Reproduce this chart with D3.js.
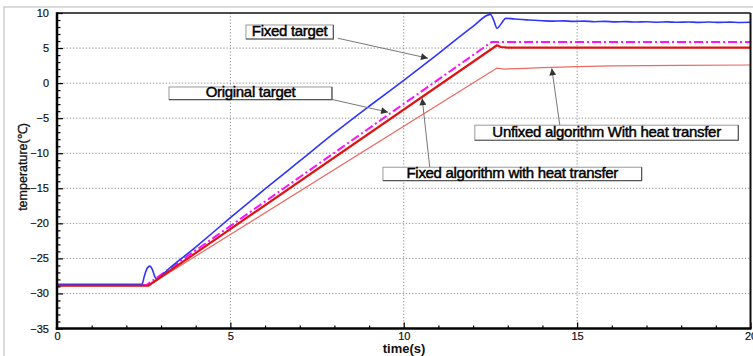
<!DOCTYPE html>
<html><head><meta charset="utf-8">
<script src="https://cdn.jsdelivr.net/npm/d3@7"></script>
<style>
html,body{margin:0;padding:0;background:#fff;}
svg{display:block;font-family:"Liberation Sans",Arial,sans-serif;}
</style></head>
<body><svg id="c" width="753" height="356"></svg>
<script>
// ---- data ----
const xTicks = [0, 5, 10, 15, 20];
const yTicks = [10, 5, 0, -5, -10, -15, -20, -25, -30, -35];
const xMinor = [1,2,3,4,6,7,8,9,11,12,13,14,16,17,18,19];
const yMinor = [9,8,7,6,4,3,2,1,-1,-2,-3,-4,-6,-7,-8,-9,-11,-12,-13,-14,-16,-17,-18,-19,-21,-22,-23,-24,-26,-27,-28,-29,-31,-32,-33,-34];

// Fixed target (blue)
const blueT = [0, 2.45, 2.52, 2.6, 2.68, 2.75, 2.82, 2.88, 2.95, 3.05, 4, 5, 6, 7, 8, 9, 10, 11, 12, 12.5, 12.6, 12.69, 12.8, 12.94, 13.1, 13.3, 13.6, 14, 14.3, 14.6, 14.9, 15.2, 15.5, 15.8, 16.1, 16.4, 16.7, 17, 17.3, 17.6, 17.9, 18.2, 18.5, 18.8, 19.1, 19.4, 19.7, 20];
const blueV = [-28.7, -28.7, -27.5, -26.4, -26.1, -26.6, -27.6, -28.0, -27.8, -27.3, -23.4, -19.2, -15.1, -11.1, -7.1, -3.3, 0.4, 4.2, 8.1, 9.8, 8.9, 7.8, 8.4, 9.24, 9.2, 9.1, 9.0, 8.9, 8.84, 8.88, 8.8, 8.84, 8.76, 8.8, 8.73, 8.77, 8.71, 8.75, 8.69, 8.73, 8.68, 8.72, 8.67, 8.71, 8.66, 8.7, 8.65, 8.67];
// Original target (magenta dash-dot)
const magT = [0, 2.58, 12.53, 20];
const magV = [-28.8, -28.8, 5.85, 5.85];
// Fixed algorithm with heat transfer (red)
const redT = [0, 2.63, 12.69, 12.8, 13.0, 20];
const redV = [-28.9, -28.9, 5.4, 5.15, 5.05, 5.05];
// Unfixed algorithm With heat transfer (light red)
const lredT = [0, 2.63, 12.69, 12.9, 13.5, 14, 15, 16, 17, 18, 20];
const lredV = [-28.9, -28.9, 2.15, 2.0, 2.1, 2.2, 2.35, 2.45, 2.5, 2.54, 2.58];

const labels = ["Fixed target", "Original target", "Unfixed algorithm With heat transfer", "Fixed algorithm with heat transfer"];

// ---- layout ----
const svg = d3.select("#c");
const L = 57, R = 750.5, T = 13, B = 328.5;
const x = d3.scaleLinear().domain([0, 20]).range([L, R]);
const y = d3.scaleLinear().domain([-35, 10]).range([B, T]);

// outer light frame
svg.append("path").attr("d", `M4,356 L4,7 L753,7`).attr("fill","none").attr("stroke","#cfcfcf").attr("stroke-width",1.5);

// grid
const g = svg.append("g");
g.selectAll(".gx").data(xTicks.filter(d => d > 0 && d < 20)).join("line")
  .attr("x1", d => x(d)).attr("x2", d => x(d)).attr("y1", T).attr("y2", B)
  .attr("stroke", "#888").attr("stroke-width", 1).attr("stroke-dasharray", "1.2,2");
g.selectAll(".gy").data(yTicks.filter(d => d < 10 && d > -35)).join("line")
  .attr("x1", L).attr("x2", R).attr("y1", d => y(d)).attr("y2", d => y(d))
  .attr("stroke", "#888").attr("stroke-width", 1).attr("stroke-dasharray", "1.2,2");

// clip
svg.append("clipPath").attr("id","pc").append("rect").attr("x",L).attr("y",T).attr("width",R-L).attr("height",B-T);
const lines = svg.append("g").attr("clip-path","url(#pc)");
function draw(ts, vs, color, w, dash, curve) {
  const pts = ts.map((t, i) => [t, vs[i]]);
  const ln = d3.line().x(d => x(d[0])).y(d => y(d[1])).curve(curve || d3.curveLinear);
  lines.append("path").attr("d", ln(pts))
    .attr("fill","none").attr("stroke",color).attr("stroke-width",w)
    .attr("stroke-dasharray", dash || null).attr("stroke-linejoin","round");
}
draw(magT, magV, "#ff10ff", 2, "9,3,2,3");
draw(blueT, blueV, "#2f35ff", 1.6, null, d3.curveMonotoneX);
draw(lredT, lredV, "#ec6a64", 1.2, null, d3.curveLinear);
draw(redT, redV, "#dd1515", 2.2, null, d3.curveLinear);

// axes
const xAxis = d3.axisBottom(x).tickValues(xTicks).tickSizeInner(-6).tickSizeOuter(0).tickPadding(3.5);
svg.append("g").attr("transform", `translate(0,${B})`).call(xAxis);
const xMin = d3.axisBottom(x).tickValues(xMinor).tickSizeInner(-3).tickSizeOuter(0).tickFormat("");
svg.append("g").attr("transform", `translate(0,${B})`).call(xMin);
const yAxis = d3.axisLeft(y).tickValues(yTicks).tickSizeInner(-6).tickSizeOuter(0).tickPadding(8);
svg.append("g").attr("transform", `translate(${L},0)`).call(yAxis);
const yMin = d3.axisLeft(y).tickValues(yMinor).tickSizeInner(-3.5).tickSizeOuter(0).tickFormat("");
svg.append("g").attr("transform", `translate(${L},0)`).call(yMin);
svg.selectAll(".domain").remove();
svg.selectAll(".tick line").attr("stroke","#000").attr("stroke-width",1.2);
svg.selectAll(".tick text").attr("font-size", 11).attr("font-family","Liberation Sans, Arial, sans-serif")
  .attr("fill","#111").attr("stroke","#111").attr("stroke-width",0.2);

// frame
svg.append("line").attr("x1",L).attr("x2",R).attr("y1",T).attr("y2",T).attr("stroke","#111").attr("stroke-width",1.6);
svg.append("line").attr("x1",R).attr("x2",R).attr("y1",T).attr("y2",B).attr("stroke","#111").attr("stroke-width",2);
svg.append("line").attr("x1",L).attr("x2",L).attr("y1",T-0.8).attr("y2",B+1.3).attr("stroke","#000").attr("stroke-width",2.5);
svg.append("line").attr("x1",L-1.2).attr("x2",R+1).attr("y1",B).attr("y2",B).attr("stroke","#000").attr("stroke-width",2.6);

// axis titles
svg.append("text").attr("x", 404).attr("y", 352.5).attr("text-anchor","middle")
  .attr("font-size",13).attr("font-weight","bold").attr("fill","#111").text("time(s)");
svg.append("text").attr("transform","translate(27,167) rotate(-90)").attr("text-anchor","middle")
  .attr("font-size",12.5).attr("fill","#111").attr("stroke","#111").attr("stroke-width",0.3).text("temperature(℃)");

// annotations (box in data coords: t0,t1,vTop,vBottom ; arrow from -> to)
const ann = [
  {label: labels[0], box: [5.45, 7.97, 8.29, 6.29], from: [8.1, 6.4], to: [10.7, 3.55]},
  {label: labels[1], box: [3.23, 7.93, -0.55, -2.35], from: [7.93, -2.33], to: [9.55, -4.15]},
  {label: labels[2], box: [12.05, 19.65, -6.0, -8.15], from: [14.5, -6.0], to: [14.27, 2.1]},
  {label: labels[3], box: [9.4, 16.86, -12.0, -13.9], from: [10.75, -12.0], to: [10.53, -2.15]}
];
const defs = svg.append("defs");
defs.append("marker").attr("id","ah").attr("viewBox","0 0 10 10").attr("refX",10).attr("refY",5)
  .attr("markerWidth",11).attr("markerHeight",7).attr("markerUnits","userSpaceOnUse").attr("orient","auto")
  .append("path").attr("d","M0,0 L10,5 L0,10 Z").attr("fill","#333");
const an = svg.append("g");
ann.forEach(a => {
  an.append("line").attr("x1", x(a.from[0])).attr("y1", y(a.from[1])).attr("x2", x(a.to[0])).attr("y2", y(a.to[1]))
    .attr("stroke","#777").attr("stroke-width",1).attr("marker-end","url(#ah)");
  const x0 = x(a.box[0]), x1 = x(a.box[1]), y0 = y(a.box[2]), y1 = y(a.box[3]);
  an.append("rect").attr("x",x0).attr("y",y0).attr("width",x1-x0).attr("height",y1-y0)
    .attr("fill","#fff").attr("stroke","#999").attr("stroke-width",1);
  an.append("path").attr("d",`M${x0},${y1} L${x1},${y1} L${x1},${y0}`).attr("fill","none").attr("stroke","#555").attr("stroke-width",1.2);
  an.append("text").attr("x",(x0+x1)/2).attr("y",y1-2.8).attr("text-anchor","middle")
    .attr("font-size",15).attr("fill","#000").attr("stroke","#000").attr("stroke-width",0.45)
    .attr("letter-spacing","-0.3").text(a.label);
});
</script></body></html>
